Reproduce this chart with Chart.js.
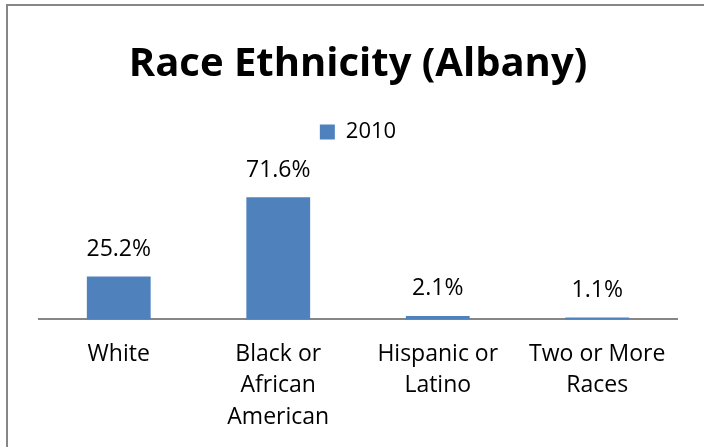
<!DOCTYPE html>
<html lang="en">
<head>
    <meta charset="UTF-8">
    <title>Race Ethnicity (Albany)</title>
    <style>
        body, html {
            margin: 0;
            padding: 0;
            background: #fff;
            overflow: hidden;
        }
        .frame {
            position: absolute;
            left: 6px;
            top: 4px;
            width: 720px;
            height: 470px;
            border: 2px solid #868686;
            pointer-events: none;
        }
        .chart-box {
            position: absolute;
            left: 0;
            top: 0;
            width: 704px;
            height: 447px;
        }
    </style>
</head>
<body>
<div class="chart-box">
    <canvas id="myChart"></canvas>
</div>
<div class="frame"></div>

<script src="https://cdn.jsdelivr.net/npm/chart.js"></script>
<script>

const categories = [
    ['White'],
    ['Black or', 'African', 'American'],
    ['Hispanic or', 'Latino'],
    ['Two or More', 'Races']
];
const seriesName = '2010';
const values2010 = [25.2, 71.6, 2.1, 1.1];

const labelFont = "'Open Sans', Lato, sans-serif";

// draws the % labels above each bar
const valueLabels = {
    id: 'valueLabels',
    afterDatasetsDraw(chart) {
        const ctx = chart.ctx;
        ctx.save();
        ctx.font = '23px ' + labelFont;
        ctx.fillStyle = '#000';
        ctx.textAlign = 'center';
        ctx.textBaseline = 'middle';
        chart.getDatasetMeta(0).data.forEach((bar, i) => {
            ctx.fillText(values2010[i].toFixed(1) + '%', bar.x, bar.y - 27);
        });
        ctx.restore();
    }
};

// extra room between the legend and the bars
const legendGap = {
    id: 'legendGap',
    beforeInit(chart) {
        const origFit = chart.legend.fit;
        chart.legend.fit = function () {
            origFit.bind(chart.legend)();
            this.height += 30;
        };
    }
};

const ctx = document.getElementById('myChart').getContext('2d');
new Chart(ctx, {
    type: 'bar',
    data: {
        labels: categories,
        datasets: [{
            label: seriesName,
            data: values2010,
            backgroundColor: '#4F81BD',
            borderWidth: 0,
            barPercentage: 0.4,
            categoryPercentage: 1
        }]
    },
    options: {
        responsive: true,
        maintainAspectRatio: false,
        animation: false,
        layout: {
            padding: { top: 20, left: 39, right: 27, bottom: -5 }
        },
        scales: {
            x: {
                grid: { display: false, drawTicks: false },
                border: { display: true, color: '#868686', width: 2 },
                ticks: {
                    color: '#000',
                    padding: 19,
                    maxRotation: 0,
                    autoSkip: false,
                    font: { family: labelFont, size: 23, lineHeight: 1.37 }
                }
            },
            y: {
                display: false,
                min: 0,
                max: 80
            }
        },
        plugins: {
            title: {
                display: true,
                text: 'Race Ethnicity (Albany)',
                color: '#000',
                font: { family: labelFont, size: 40, weight: 'bold' },
                padding: { top: 21, bottom: 22 }
            },
            legend: {
                display: true,
                position: 'top',
                labels: {
                    color: '#000',
                    boxWidth: 15,
                    boxHeight: 15,
                    font: { family: labelFont, size: 22 }
                }
            },
            tooltip: { enabled: false }
        }
    },
    plugins: [valueLabels, legendGap]
});

</script>
</body>
</html>
